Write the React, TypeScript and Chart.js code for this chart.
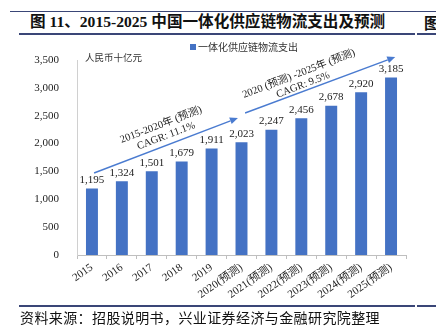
import React, { useEffect, useRef } from "react";
import { Chart, registerables } from "chart.js";

Chart.register(...registerables);

const categories = [
  "2015", "2016", "2017", "2018", "2019",
  "2020(预测)", "2021(预测)", "2022(预测)", "2023(预测)", "2024(预测)", "2025(预测)",
];
const spending = [1195, 1324, 1501, 1679, 1911, 2023, 2247, 2456, 2678, 2920, 3185];
const seriesName = "一体化供应链物流支出";
const unitLabel = "人民币十亿元";
const yMin = 0;
const yMax = 3500;
const yStep = 500;

// CAGR arrows: [categoryIndex, value] pairs, placed through the chart scales
const arrowStarts = [[0.07, 1472], [5.12, 2549]];
const arrowEnds = [[4.88, 2459], [10.14, 3554]];
const noteLines = [
  ["2015-2020年 (预测)", "CAGR: 11.1%"],
  ["2020 (预测) -2025年 (预测)", "CAGR: 9.5%"],
];
const noteAnchors = [[2.31, 2333, 2.48, 2136], [6.92, 3249, 7.06, 3051]];

const titleText = "图 11、2015-2025 中国一体化供应链物流支出及预测";
const sourceText = "资料来源：招股说明书，兴业证券经济与金融研究院整理";

const BAR = "#4472C4";
const ARROW = "#4A7BD0";
const NAVY = "#3A4677";
const SERIF = "'Liberation Serif', 'Noto Sans CJK SC', serif";
const CJK = "'Noto Sans CJK SC', 'Liberation Serif', sans-serif";

const fmt = (v: number) => v.toLocaleString("en-US");

const decorPlugin = {
  id: "decor",
  afterDatasetsDraw(chart: any) {
    const ctx = chart.ctx;
    const xs = chart.scales.x;
    const ys = chart.scales.y;
    const area = chart.chartArea;

    // data labels
    ctx.save();
    ctx.fillStyle = "#222";
    ctx.font = "11px " + SERIF;
    ctx.textAlign = "center";
    ctx.textBaseline = "bottom";
    const meta = chart.getDatasetMeta(0);
    meta.data.forEach((bar: any, i: number) => {
      ctx.fillText(fmt(spending[i]), bar.x, bar.y - 3);
    });
    ctx.restore();

    // arrows
    ctx.save();
    ctx.strokeStyle = ARROW;
    ctx.fillStyle = ARROW;
    ctx.lineWidth = 1.4;
    arrowStarts.forEach((s, k) => {
      const e = arrowEnds[k];
      const x1 = xs.getPixelForValue(s[0]);
      const y1 = ys.getPixelForValue(s[1]);
      const x2 = xs.getPixelForValue(e[0]);
      const y2 = ys.getPixelForValue(e[1]);
      const ang = Math.atan2(y2 - y1, x2 - x1);
      const len = 8;
      const hw = 3.5;
      const bx = x2 - len * Math.cos(ang);
      const by = y2 - len * Math.sin(ang);
      ctx.beginPath();
      ctx.moveTo(x1, y1);
      ctx.lineTo(bx, by);
      ctx.stroke();
      ctx.beginPath();
      ctx.moveTo(x2, y2);
      ctx.lineTo(bx + hw * Math.sin(ang), by - hw * Math.cos(ang));
      ctx.lineTo(bx - hw * Math.sin(ang), by + hw * Math.cos(ang));
      ctx.closePath();
      ctx.fill();
    });
    ctx.restore();

    // rotated CAGR notes
    ctx.save();
    ctx.fillStyle = "#222";
    ctx.font = "10.5px " + SERIF;
    ctx.textAlign = "center";
    ctx.textBaseline = "middle";
    const rot = (-21 * Math.PI) / 180;
    noteLines.forEach((lines, k) => {
      const a = noteAnchors[k];
      [[a[0], a[1]], [a[2], a[3]]].forEach((p, j) => {
        const px = xs.getPixelForValue(p[0]);
        const py = ys.getPixelForValue(p[1]);
        ctx.save();
        ctx.translate(px, py);
        ctx.rotate(rot);
        ctx.fillText(lines[j], 0, 0);
        ctx.restore();
      });
    });
    ctx.restore();

    // legend
    ctx.save();
    ctx.font = "10px " + CJK;
    const tw = ctx.measureText(seriesName).width;
    const lx = 190;
    const ly = 47;
    ctx.fillStyle = BAR;
    ctx.fillRect(lx, ly - 3, 6, 6);
    ctx.fillStyle = "#333";
    ctx.textBaseline = "middle";
    ctx.textAlign = "left";
    ctx.fillText(seriesName, lx + 8, ly);
    ctx.restore();

    // unit label
    ctx.save();
    ctx.font = "9.5px " + CJK;
    ctx.fillStyle = "#333";
    ctx.textBaseline = "middle";
    ctx.textAlign = "left";
    ctx.fillText(unitLabel, area.left + 8, area.top - 3);
    ctx.restore();
  },
};

export default function App() {
  const ref = useRef<HTMLCanvasElement | null>(null);

  useEffect(() => {
    if (!ref.current) return;
    const chart = new Chart(ref.current, {
      type: "bar",
      data: {
        labels: categories,
        datasets: [
          {
            label: seriesName,
            data: spending,
            backgroundColor: BAR,
            barPercentage: 0.8,
            categoryPercentage: 0.5,
          },
        ],
      },
      options: {
        animation: false,
        responsive: false,
        devicePixelRatio: 1,
        layout: { padding: { top: 60, left: 0, right: 30, bottom: 0 } },
        plugins: {
          legend: { display: false },
          title: { display: false },
          tooltip: { enabled: false },
        },
        scales: {
          x: {
            grid: {
              display: true,
              drawOnChartArea: false,
              drawTicks: true,
              tickLength: 4,
              color: "#BFBFBF",
              offset: true,
            },
            border: { display: true, color: "#BFBFBF" },
            ticks: {
              color: "#222",
              font: { family: SERIF, size: 11 },
              minRotation: 35,
              maxRotation: 35,
              autoSkip: false,
              padding: 2,
            },
            afterFit: (s: any) => {
              s.height = 72;
            },
          },
          y: {
            min: yMin,
            max: yMax,
            grid: { display: false },
            border: { display: true, color: "#D0D0D0" },
            ticks: {
              stepSize: yStep,
              color: "#222",
              font: { family: SERIF, size: 11 },
              padding: 10,
              callback: (v: any) => fmt(Number(v)),
            },
            afterFit: (s: any) => {
              s.width = 77;
            },
          },
        },
      },
      plugins: [decorPlugin],
    });
    return () => chart.destroy();
  }, []);

  return (
    <div
      style={{
        position: "fixed",
        left: 0,
        top: 0,
        width: 436,
        height: 327,
        background: "#fff",
        overflow: "hidden",
      }}
    >
      <div style={{ position: "absolute", left: 10, right: 0, top: 11, height: 1, background: NAVY }} />
      <div
        style={{
          position: "absolute",
          left: 30,
          top: 12,
          fontFamily: SERIF,
          fontWeight: "bold",
          fontSize: 15.6,
          lineHeight: "20px",
          color: "#111",
          whiteSpace: "nowrap",
        }}
      >
        {titleText}
      </div>
      <div
        style={{
          position: "absolute",
          left: 424,
          top: 12,
          fontFamily: CJK,
          fontWeight: "bold",
          fontSize: 15.6,
          lineHeight: "20px",
          color: "#111",
          whiteSpace: "nowrap",
        }}
      >
        图
      </div>
      <div style={{ position: "absolute", left: 19, width: 396, top: 33, height: 2, background: NAVY }} />
      <div style={{ position: "absolute", left: 417, right: 0, top: 33, height: 2, background: NAVY }} />
      <canvas
        ref={ref}
        width={436}
        height={327}
        style={{ position: "absolute", left: 0, top: 0, width: 436, height: 327 }}
      />
      <div style={{ position: "absolute", left: 19, width: 396, top: 305, height: 2, background: NAVY }} />
      <div style={{ position: "absolute", left: 417, right: 0, top: 305, height: 2, background: NAVY }} />
      <div
        style={{
          position: "absolute",
          left: 20,
          top: 308,
          fontFamily: CJK,
          fontSize: 14,
          letterSpacing: 0.4,
          lineHeight: "18px",
          color: "#111",
          whiteSpace: "nowrap",
        }}
      >
        {sourceText}
      </div>
    </div>
  );
}
